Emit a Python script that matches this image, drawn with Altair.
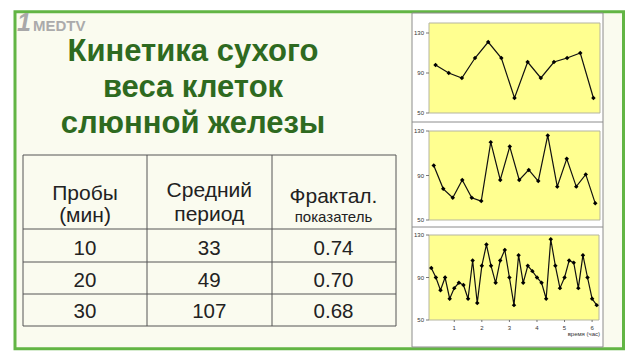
import altair as alt
import pandas as pd

# ---------------- data ----------------
title_lines = ["Кинетика сухого", "веса клеток", "слюнной железы"]
header_line1 = ["Пробы", "Средний", "Фрактал."]
header_line2 = ["(мин)", "период", "показатель"]
samples_min = ["10", "20", "30"]
mean_period = ["33", "49", "107"]
fractal_index = ["0.74", "0.70", "0.68"]

# dry weight series (sampling every 30, 20 and 10 minutes)
series_30 = [98, 90, 85, 105, 121, 105, 65, 101, 85, 101, 105, 110, 65]
series_20 = [99, 78, 70, 86, 70, 67, 120, 86, 116, 86, 95, 85, 126, 80, 105, 80, 91, 65]
series_10 = [99, 90, 78, 90, 70, 80, 85, 83, 70, 106, 66, 101, 121, 101, 85, 106, 116, 90, 64,
             111, 85, 101, 96, 90, 85, 70, 126, 101, 80, 90, 106, 104, 80, 111, 90, 70, 64]
y_ticks = [50, 90, 130]
hour_ticks = [1, 2, 3, 4, 5, 6]
x_title = "время (час)"

# ---------------- styles ----------------
FONT = "Liberation Sans"
GREEN = "#62b544"
CREAM = "#fafbef"
YELLOW = "#ffff90"
TITLE_GREEN = "#2e6a20"

one = pd.DataFrame({"k": [0]})


def box(x, x2, y, y2, **kw):
    return alt.Chart(one).mark_rect(**kw).encode(
        x=alt.value(x), x2=alt.value(x2), y=alt.value(y), y2=alt.value(y2))


def hline(x, x2, y, color="#555", w=1):
    return alt.Chart(one).mark_rule(color=color, strokeWidth=w).encode(
        x=alt.value(x), x2=alt.value(x2), y=alt.value(y))


def vline(x, y, y2, color="#555", w=1):
    return alt.Chart(one).mark_rule(color=color, strokeWidth=w).encode(
        x=alt.value(x), y=alt.value(y), y2=alt.value(y2))


layers = []
# slide frame and background
layers.append(box(7, 615.5, 3.7, 340.8, fill=CREAM, stroke=GREEN, strokeWidth=3))
# logo
layers.append(alt.Chart(one).mark_text(text="1", font=FONT, fontSize=25, fontWeight="bold",
                                       fontStyle="italic", color="#a8a8a8", align="left",
                                       baseline="alphabetic").encode(x=alt.value(9), y=alt.value(23)))
layers.append(alt.Chart(one).mark_text(text="MEDTV", font=FONT, fontSize=15, fontWeight="bold", color="#ababab",
                                       align="left", baseline="alphabetic").encode(x=alt.value(25), y=alt.value(23)))

# title
title_df = pd.DataFrame({"line": [0, 1, 2], "t": title_lines})
layers.append(alt.Chart(title_df).mark_text(font=FONT, fontSize=31, fontWeight="bold", color=TITLE_GREEN,
                                            align="center", baseline="alphabetic").encode(
    x=alt.value(185),
    y=alt.Y("line:Q", scale=alt.Scale(domain=[0, 2], range=[53, 125], nice=False, zero=False), axis=None),
    text="t:N"))

# table grid
layers.append(box(15, 388, 147, 318, fill=CREAM, stroke="#555", strokeWidth=1))
for xv in (139, 264):
    layers.append(vline(xv, 147, 318))
for yv in (221, 254, 286):
    layers.append(hline(15, 388, yv))

col_scale = alt.Scale(domain=[0, 2], range=[77, 325.5], nice=False, zero=False)
px_scale = alt.Scale(domain=[0, 344], range=[0, 344], nice=False, zero=False)
h1 = pd.DataFrame({"c": [0, 1, 2], "t": header_line1, "yy": [192, 189, 195]})
layers.append(alt.Chart(h1).mark_text(font=FONT, fontSize=21, color="#222", baseline="alphabetic").encode(
    x=alt.X("c:Q", scale=col_scale, axis=None),
    y=alt.Y("yy:Q", scale=px_scale, axis=None),
    text="t:N"))
h2 = pd.DataFrame({"c": [0, 1, 2], "t": header_line2, "yy": [214, 213, 214], "fs": [21, 21, 15]})
layers.append(alt.Chart(h2).mark_text(font=FONT, color="#222", baseline="alphabetic").encode(
    x=alt.X("c:Q", scale=col_scale, axis=None),
    y=alt.Y("yy:Q", scale=px_scale, axis=None),
    size=alt.Size("fs:Q", scale=None, legend=None),
    text="t:N"))
rows = []
for r in range(3):
    for c, col in enumerate([samples_min, mean_period, fractal_index]):
        rows.append({"r": r, "c": c, "t": col[r]})
body = pd.DataFrame(rows)
layers.append(alt.Chart(body).mark_text(font=FONT, fontSize=20.5, color="#222", baseline="alphabetic").encode(
    x=alt.X("c:Q", scale=col_scale, axis=None),
    y=alt.Y("r:Q", scale=alt.Scale(domain=[0, 2], range=[247, 310], nice=False, zero=False), axis=None),
    text="t:N"))

# chart panel
layers.append(box(404, 595, 5, 339, fill="white", stroke="#8c8c8c", strokeWidth=1))
layers.append(hline(404, 595, 114, color="#8c8c8c"))
layers.append(hline(404, 595, 219, color="#8c8c8c"))


def small_chart(values, ymax, xr, yr, hours=False):
    n = len(values)
    xs = alt.Scale(domain=[0.5, n + 0.5], range=list(xr), nice=False, zero=False)
    ys = alt.Scale(domain=[50, ymax], range=[yr[1], yr[0]], nice=False, zero=False)
    df = pd.DataFrame({"i": list(range(1, n + 1)), "v": values})
    frame = pd.DataFrame({"x0": [0.5], "x1": [n + 0.5], "y0": [50], "y1": [ymax]})
    ticks = pd.DataFrame({"v": y_ticks, "lab": [str(t) for t in y_ticks]})
    parts = [
        alt.Chart(frame).mark_rect(fill=YELLOW, stroke="#b5b5a0", strokeWidth=1).encode(
            x=alt.X("x0:Q", scale=xs, axis=None), x2="x1:Q",
            y=alt.Y("y0:Q", scale=ys, axis=None), y2="y1:Q"),
        alt.Chart(ticks).mark_rule(color="#555", strokeWidth=0.8).encode(
            x=alt.value(xr[0] - 3), x2=alt.value(xr[0]), y=alt.Y("v:Q", scale=ys, axis=None)),
        alt.Chart(ticks).mark_text(font=FONT, fontSize=6, color="#333", align="right", baseline="middle").encode(
            x=alt.value(xr[0] - 5), y=alt.Y("v:Q", scale=ys, axis=None), text="lab:N"),
        alt.Chart(df).mark_line(color="#111", strokeWidth=1.2).encode(
            x=alt.X("i:Q", scale=xs, axis=None), y=alt.Y("v:Q", scale=ys, axis=None)),
        alt.Chart(df).mark_point(shape="diamond", filled=True, size=20, color="#000", opacity=1).encode(
            x=alt.X("i:Q", scale=xs, axis=None), y=alt.Y("v:Q", scale=ys, axis=None)),
    ]
    if hours:
        per_hour = 60 // 10
        hdf = pd.DataFrame({"i": [h * per_hour for h in hour_ticks], "lab": [str(h) for h in hour_ticks]})
        parts.append(alt.Chart(hdf).mark_rule(color="#555", strokeWidth=0.8).encode(
            x=alt.X("i:Q", scale=xs, axis=None), y=alt.value(yr[1]), y2=alt.value(yr[1] + 2)))
        parts.append(alt.Chart(hdf).mark_text(font=FONT, fontSize=6, color="#333", baseline="top").encode(
            x=alt.X("i:Q", scale=xs, axis=None), y=alt.value(yr[1] + 5), text="lab:N"))
        parts.append(alt.Chart(one).mark_text(text=x_title, font=FONT, fontSize=6, color="#333",
                                              align="right", baseline="middle").encode(
            x=alt.value(xr[1] + 1), y=alt.value(yr[1] + 14)))
    return alt.layer(*parts)


layers.append(small_chart(series_30, 140, (421, 592), (15, 105)))
layers.append(small_chart(series_20, 130, (421, 592), (123, 212)))
layers.append(small_chart(series_10, 130, (421, 591), (227, 312), hours=True))

chart = alt.layer(*layers).resolve_scale(x="independent", y="independent", size="independent").properties(
    width=624, height=344, padding=0, autosize=alt.AutoSizeParams(type="none"), background="white"
).configure_view(stroke=None)

chart.save("out.html", embed_options={"renderer": "svg", "actions": False})
